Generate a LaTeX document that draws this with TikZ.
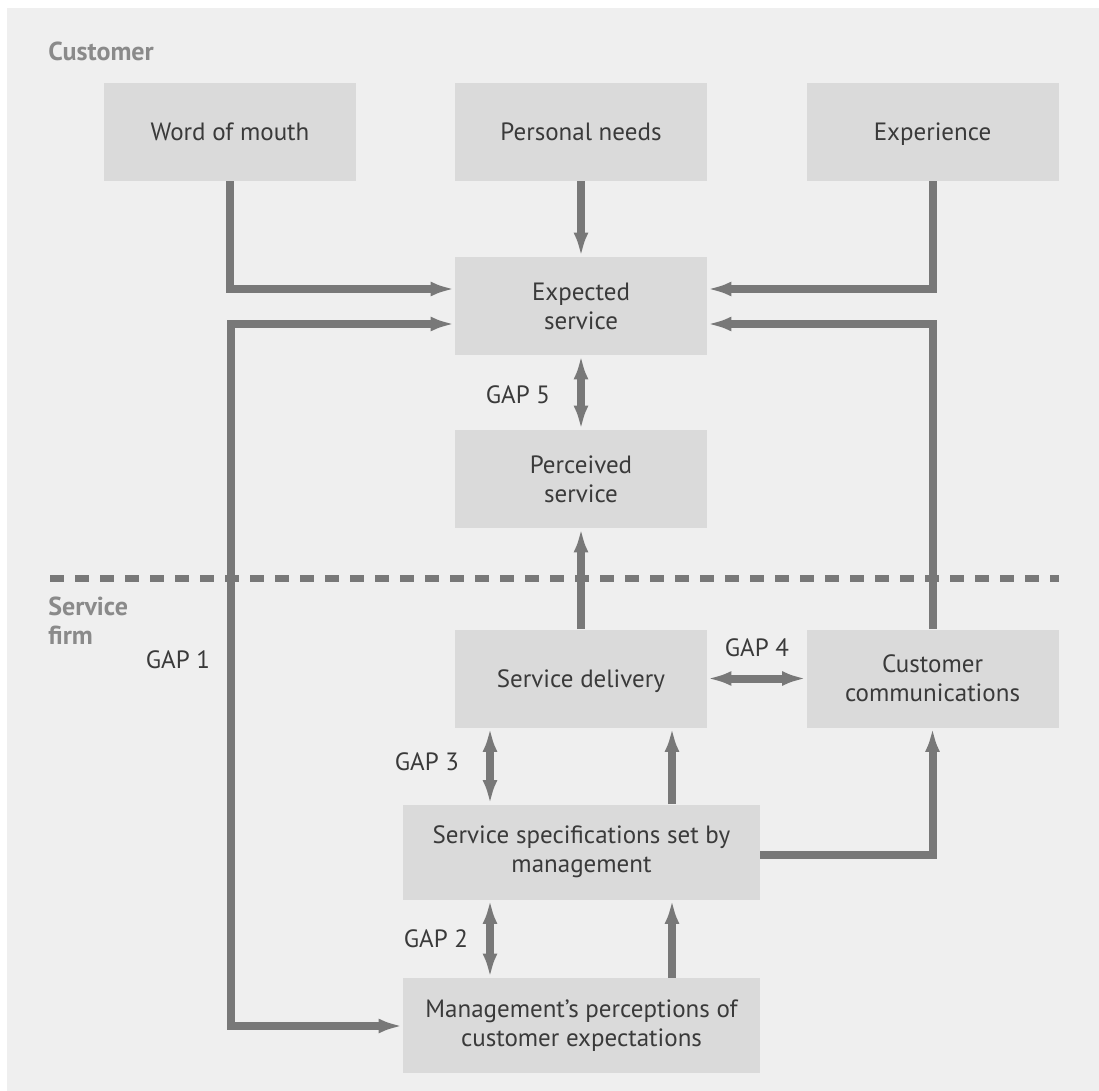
\documentclass[tikz,border=0pt]{standalone}
\usepackage{fontspec}
\setmainfont{PT Sans}
\usetikzlibrary{arrows.meta}
\usetikzlibrary{calc}
\definecolor{paper}{HTML}{EFEFEF}
\definecolor{boxgrey}{HTML}{DADADA}
\definecolor{arrowgrey}{HTML}{787878}
\definecolor{textdark}{HTML}{3A3A3A}
\definecolor{sidegrey}{HTML}{8A8A8A}
\tikzset{>={Latex[length=12pt,width=7.5pt]}}
\tikzset{
    box/.style={fill=boxgrey, text=textdark, align=center, inner sep=0pt,
        minimum width=126pt, minimum height=49pt,
        font=\fontsize{12.5}{14.5}\selectfont},
    oneline/.style={box, text height=8.8pt, text depth=0pt},
    widebox/.style={box, minimum width=178.5pt, minimum height=47.5pt},
    flow/.style={draw=arrowgrey, line width=4pt, ->},
    gaparrow/.style={draw=arrowgrey, line width=4pt, <->},
    gaplabel/.style={text=textdark, inner sep=0pt, text height=8.8pt, text depth=0pt,
        font=\fontsize{12.5}{14}\selectfont},
    sidelabel/.style={text=sidegrey, inner sep=0pt, align=left, anchor=west,
        font=\bfseries\fontsize{13}{14.5}\selectfont},
    divider/.style={draw=arrowgrey, line width=3.5pt, dash pattern=on 7pt off 5.5pt}
}

\begin{document}
\begin{tikzpicture}[x=0.5pt,y=-0.5pt]
    \useasboundingbox (0,0) rectangle (1099,1091);
    \fill[paper] (7,8) rectangle (1099,1091);
    %customer side
    \node[sidelabel, text height=9pt, text depth=0pt] (cust) at (48,52) {Customer};
    \node[oneline] (wom) at (230,132) {Word of mouth};
    \node[oneline] (needs) at (581,132) {Personal needs};
    \node[oneline] (exper) at (932.5,132) {Experience};
    \node[box] (expected) at (581,306) {Expected\\service};
    \node[box] (perceived) at (581,479) {Perceived\\service};
    %dividing line
    \draw[divider] (50,578) -- (1059,578);
    %firm side
    \node[sidelabel] (firm) at (48,621) {Service\\firm};
    \node[oneline] (delivery) at (581,678.5) {Service delivery};
    \node[box] (custcomm) at (932.5,678.5) {Customer\\communications};
    \node[widebox] (specs) at (581.5,852) {Service specifications set by\\management};
    \node[widebox] (mgmt) at (581.5,1025.5) {Management's perceptions of\\customer expectations};
    %bend points
    \coordinate (topL) at (231,289);
    \coordinate (topR) at (932,289);
    \coordinate (midL) at (231,324);
    \coordinate (midR) at (932,324);
    \coordinate (botL) at (231,1026);
    \coordinate (commR) at (932,855);
    \coordinate (leftcol) at (490,0);
    \coordinate (rightcol) at (672,0);
    %connectors
    \draw[flow] (wom.south) |- (expected.west |- topL);
    \draw[flow] (needs.south) -- (expected.north);
    \draw[flow] (exper.south) |- (expected.east |- topR);
    \draw[gaparrow] (expected.west |- midL) -- (midL) -- (botL) -- (mgmt.west |- botL);
    \draw[flow] (custcomm.north) |- (expected.east |- midR);
    \draw[gaparrow] (expected.south) -- (perceived.north);
    \draw[flow] (delivery.north) -- (perceived.south);
    \draw[gaparrow] (delivery.east) -- (custcomm.west);
    \draw[gaparrow] (specs.north -| leftcol) -- (delivery.south -| leftcol);
    \draw[flow] (specs.north -| rightcol) -- (delivery.south -| rightcol);
    \draw[flow] (specs.east |- commR) -| (custcomm.south);
    \draw[gaparrow] (mgmt.north -| leftcol) -- (specs.south -| leftcol);
    \draw[flow] (mgmt.north -| rightcol) -- (specs.south -| rightcol);
    %gap labels
    \node[gaplabel] (gap1) at (178,660) {GAP 1};
    \node[gaplabel] (gap2) at (436,939) {GAP 2};
    \node[gaplabel] (gap3) at (427,762) {GAP 3};
    \node[gaplabel] (gap4) at (757,648) {GAP 4};
    \node[gaplabel] (gap5) at (518,395) {GAP 5};
\end{tikzpicture}
\end{document}
